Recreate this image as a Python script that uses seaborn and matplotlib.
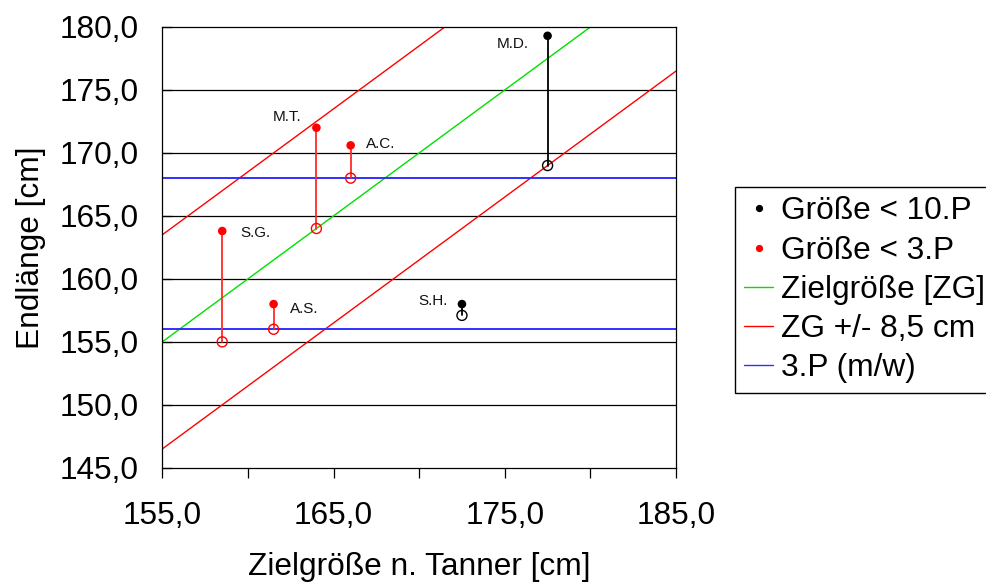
import matplotlib
matplotlib.use("Agg")
import matplotlib.pyplot as plt
from matplotlib.lines import Line2D
from matplotlib.ticker import FuncFormatter, FixedLocator
import numpy as np
import pandas as pd
import seaborn as sns

# Patients: target height (Tanner), predicted final height (filled) and second estimate (open)
names = ["S.G.", "A.S.", "M.T.", "A.C.", "S.H.", "M.D."]
target = [158.5, 161.5, 164.0, 166.0, 172.5, 177.5]
final_height = [163.8, 158.0, 172.0, 170.6, 158.0, 179.3]
second_height = [155.0, 156.0, 164.0, 168.0, 157.1, 169.0]
group = ["< 3.P", "< 3.P", "< 3.P", "< 3.P", "< 10.P", "< 10.P"]

# Reference lines
zg_x = [155.0, 185.0]
zg_margin = 8.5
p3_levels = [168.0, 156.0]

# Axis ticks
x_major = [155, 165, 175, 185]
x_minor = [160, 170, 180]
y_major = [145, 150, 155, 160, 165, 170, 175, 180]

# Label offsets (points) and alignment per patient
label_dx = [13.0, 12.0, -11.0, 11.3, -10.3, -13.7]
label_dy = [-1.2, -3.6, 7.6, 0.7, 2.2, -6.0]
label_ha = ["left", "left", "right", "left", "right", "right"]

df = pd.DataFrame({"name": names, "target": target, "final": final_height,
                   "second": second_height, "group": group})

sns.set_theme(style="white")
plt.rcParams["font.family"] = ["Liberation Sans", "DejaVu Sans"]
for key in ["text.color", "axes.labelcolor", "xtick.color", "ytick.color"]:
    plt.rcParams[key] = "black"

RED = "#ff0000"
GREEN = "#00e000"
BLUE = "#3030ff"
palette = {"< 3.P": RED, "< 10.P": "black"}

fig = plt.figure(figsize=(9.87, 5.83), dpi=100)
ax = fig.add_axes([162.3 / 987, 1 - 467.8 / 583, 513.7 / 987, 440.8 / 583])

# horizontal grid
for yv in y_major[1:-1]:
    ax.axhline(yv, color="black", lw=0.9, zorder=1)

# target-height line and margins
zg_arr = np.array(zg_x)
sns.lineplot(x=zg_arr, y=zg_arr, color=GREEN, lw=1.0, ax=ax, zorder=2)
sns.lineplot(x=zg_arr, y=zg_arr + zg_margin, color=RED, lw=1.0, ax=ax, zorder=2)
sns.lineplot(x=zg_arr, y=zg_arr - zg_margin, color=RED, lw=1.0, ax=ax, zorder=2)
for lvl in p3_levels:
    ax.axhline(lvl, color=BLUE, lw=1.4, zorder=2)

# connectors between the two estimates
conn_colors = {"< 3.P": "#ff2a2a", "< 10.P": "black"}
for _, r in df.iterrows():
    ax.plot([r.target, r.target], [r.second, r.final], color=conn_colors[r.group],
            lw=1.3, zorder=3)

# open markers
for g, c in palette.items():
    sub = df[df.group == g]
    ax.scatter(sub.target, sub.second, s=52, facecolors="none", edgecolors=c,
               linewidths=1.0, zorder=4)

# filled markers
sns.scatterplot(data=df, x="target", y="final", hue="group", palette=palette,
                s=38, edgecolor="none", legend=False, ax=ax, zorder=5)

for i, r in df.iterrows():
    ax.annotate(r["name"], (r.target, r.final), xytext=(label_dx[i], label_dy[i]),
                textcoords="offset points", ha=label_ha[i], va="center",
                fontsize=11, color="#111111", zorder=6)

ax.set_xlim(155, 185)
ax.set_ylim(145, 180)
ax.xaxis.set_major_locator(FixedLocator(x_major))
ax.xaxis.set_minor_locator(FixedLocator(x_minor))
ax.yaxis.set_major_locator(FixedLocator(y_major))
fmt = FuncFormatter(lambda v, p: f"{v:.1f}".replace(".", ","))
ax.xaxis.set_major_formatter(fmt)
ax.yaxis.set_major_formatter(fmt)
ax.tick_params(axis="x", which="both", direction="out", length=7, width=0.9,
               color="black", labelsize=22.8, pad=17, bottom=True)
ax.tick_params(axis="y", which="major", direction="in", length=7, width=0.9,
               color="black", labelsize=22.8, pad=17, left=True)
for s in ax.spines.values():
    s.set_color("black")
    s.set_linewidth(0.9)

ax.set_xlabel("Zielgröße n. Tanner [cm]", fontsize=22.8, labelpad=15)
ax.set_ylabel("Endlänge [cm]", fontsize=22.8, labelpad=10)

handles = [
    Line2D([], [], ls="none", marker="o", color="black", markersize=4.2),
    Line2D([], [], ls="none", marker="o", color=RED, markersize=4.2),
    Line2D([], [], color=GREEN, lw=1.0),
    Line2D([], [], color=RED, lw=1.0),
    Line2D([], [], color=BLUE, lw=1.0),
]
labels = ["Größe < 10.P", "Größe < 3.P", "Zielgröße [ZG]", "ZG +/- 8,5 cm", "3.P (m/w)"]
leg = fig.legend(handles, labels, loc="upper left",
                 bbox_to_anchor=(735 / 987, 1 - 187 / 583), borderaxespad=0,
                 fontsize=22.8, frameon=True, fancybox=False, framealpha=1,
                 edgecolor="black", handlelength=0.9, handletextpad=0.25,
                 borderpad=0.3, labelspacing=0.29)
leg.get_frame().set_linewidth(1.0)

fig.savefig("out.png", dpi=100)
